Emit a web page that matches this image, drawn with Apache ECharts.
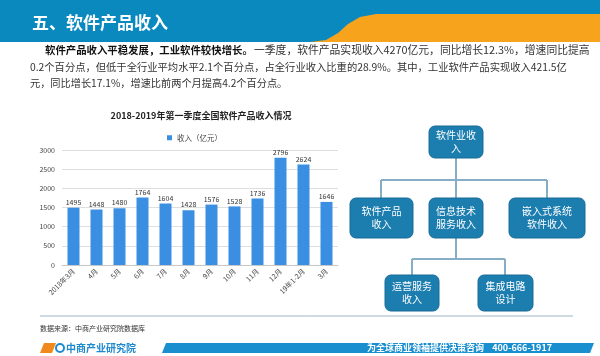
<!DOCTYPE html>
<html><head><meta charset="utf-8">
<script src="https://cdn.jsdelivr.net/npm/echarts@6/dist/echarts.min.js"></script>
<style>html,body{margin:0;padding:0;background:#fff}#c{width:600px;height:356px}</style>
</head><body><div id="c"></div>
<script>
const categories = ['2018年3月','4月','5月','6月','7月','8月','9月','10月','11月','12月','19年1-2月','3月'];
const revenue = [1495,1448,1480,1764,1604,1428,1576,1528,1736,2796,2624,1646];
const yTicks = {min:0, max:3000, interval:500};
const seriesName = '收入（亿元）';
const chartTitle = '2018-2019年第一季度全国软件产品收入情况';
const headerTitle = '五、软件产品收入';
const paraBold = '软件产品收入平稳发展，工业软件较快增长。';
const paraLine1 = '一季度，软件产品实现收入4270亿元，同比增长12.3%，增速同比提高';
const paraLine2 = '0.2个百分点，但低于全行业平均水平2.1个百分点，占全行业收入比重的28.9%。其中，工业软件产品实现收入421.5亿';
const paraLine3 = '元，同比增长17.1%，增速比前两个月提高4.2个百分点。';
const orgRoot = '软件业收\n入';
const orgLevel2 = ['软件产品\n收入','信息技术\n服务收入','嵌入式系统\n软件收入'];
const orgLevel3 = ['运营服务\n收入','集成电路\n设计'];
const sourceText = '数据来源：中商产业研究院数据库';
const footerText = '为全球商业领袖提供决策咨询    400-666-1917';
const logoText = '中商产业研究院';

const FONT = '"Noto Sans CJK SC", "Noto Sans", sans-serif';
const BOX = '#1c7daf';
const LINE = '#86aec6';

function box(x,y,w,h,text){
  return [
    {type:'rect', shape:{x:x,y:y,width:w,height:h,r:6}, style:{fill:BOX, stroke:'#176c98', lineWidth:1}, z:5},
    {type:'text', x:x+w/2, y:y+h/2, z:6, style:{text:text, fill:'#fff', font:'10px '+FONT, textAlign:'center', textVerticalAlign:'middle', lineHeight:13}}
  ];
}
function ln(x1,y1,x2,y2){
  return {type:'line', shape:{x1:x1,y1:y1,x2:x2,y2:y2}, style:{stroke:LINE, lineWidth:2}, z:4};
}

const graphics = [
  {type:'rect', shape:{x:0,y:0,width:600,height:42}, style:{fill:'#0a89bf'}, z:0},
  {type:'polygon', shape:{points:[[310,42],[326,40],[338,33],[348,24],[360,17],[376,14],[600,14],[600,42]]}, style:{fill:'#f7a31c'}, z:1},
  {type:'text', x:32, y:23, style:{text:headerTitle, fill:'#fff', font:'bold 17px '+FONT, textVerticalAlign:'middle'}, z:2},
  {type:'text', x:45, y:50, style:{text:paraBold, fill:'#111', font:'bold 10.4px '+FONT, textVerticalAlign:'middle'}},
  {type:'text', x:254, y:50, style:{text:paraLine1, fill:'#333', font:'10.8px '+FONT, textVerticalAlign:'middle'}},
  {type:'text', x:30, y:67, style:{text:paraLine2, fill:'#333', font:'10.3px '+FONT, textVerticalAlign:'middle'}},
  {type:'text', x:30, y:83, style:{text:paraLine3, fill:'#333', font:'10.2px '+FONT, textVerticalAlign:'middle'}},
  ln(456,158,456,180), ln(381,180,547,180),
  ln(381,180,381,198), ln(456,180,456,198), ln(547,180,547,198),
  ln(456,238,456,259), ln(412,259,505,259), ln(412,259,412,275), ln(505,259,505,275)
].concat(
  box(429,126,54,32,orgRoot),
  box(350,198,63,40,orgLevel2[0]),
  box(429,198,54,40,orgLevel2[1]),
  box(509,198,76,40,orgLevel2[2]),
  box(385,275,54,36,orgLevel3[0]),
  box(478,275,55,36,orgLevel3[1]),
  [
    {type:'line', shape:{x1:40,y1:316,x2:573,y2:316}, style:{stroke:'#9fb6c6', lineWidth:1}},
    {type:'text', x:40, y:328, style:{text:sourceText, fill:'#333', font:'7px '+FONT, textVerticalAlign:'middle'}},
    {type:'polygon', shape:{points:[[40,353],[44,343],[56,343],[52,353]]}, style:{fill:'#f08a1c'}},
    {type:'circle', shape:{cx:60,cy:348,r:4}, style:{fill:'none', stroke:'#1d8ad0', lineWidth:2}},
    {type:'text', x:66, y:348, style:{text:logoText, fill:'#1d8ad0', font:'bold 10px '+FONT, textVerticalAlign:'middle'}},
    {type:'polygon', shape:{points:[[162,353],[166,343],[594,343],[590,353]]}, style:{fill:'#1a8fd0'}},
    {type:'text', x:552, y:348, style:{text:footerText, fill:'#fff', font:'bold 9px '+FONT, textAlign:'right', textVerticalAlign:'middle'}}
  ]
);

const chart = echarts.init(document.getElementById('c'), null, {renderer:'canvas'});
chart.setOption({
  animation:false,
  textStyle:{fontFamily:FONT},
  title:{text:chartTitle, left:196, top:106, textAlign:'center',
    textStyle:{fontSize:9, fontWeight:'bold', color:'#222', fontFamily:FONT}},
  legend:{data:[seriesName], left:162, top:129, itemWidth:5, itemHeight:5, itemGap:4,
    textStyle:{fontSize:7.5, color:'#444', fontFamily:FONT}, icon:'rect'},
  grid:{left:62, right:262, top:150, bottom:91, containLabel:false},
  xAxis:{type:'category', data:categories,
    axisLine:{lineStyle:{color:'#c8c8c8'}}, axisTick:{show:false},
    axisLabel:{rotate:45, fontSize:7, color:'#444', interval:0, margin:5, fontFamily:FONT}},
  yAxis:{type:'value', min:yTicks.min, max:yTicks.max, interval:yTicks.interval,
    axisLine:{show:false}, axisTick:{show:false},
    axisLabel:{fontSize:7, color:'#444', margin:7, formatter:function(v){return String(v);}},
    splitLine:{lineStyle:{color:'#dedede'}}},
  series:[{name:seriesName, type:'bar', data:revenue, barWidth:12,
    itemStyle:{color:'#3b8fe3'},
    label:{show:true, position:'top', fontSize:7, color:'#333', distance:2}}],
  graphic:graphics
});
</script></body></html>
